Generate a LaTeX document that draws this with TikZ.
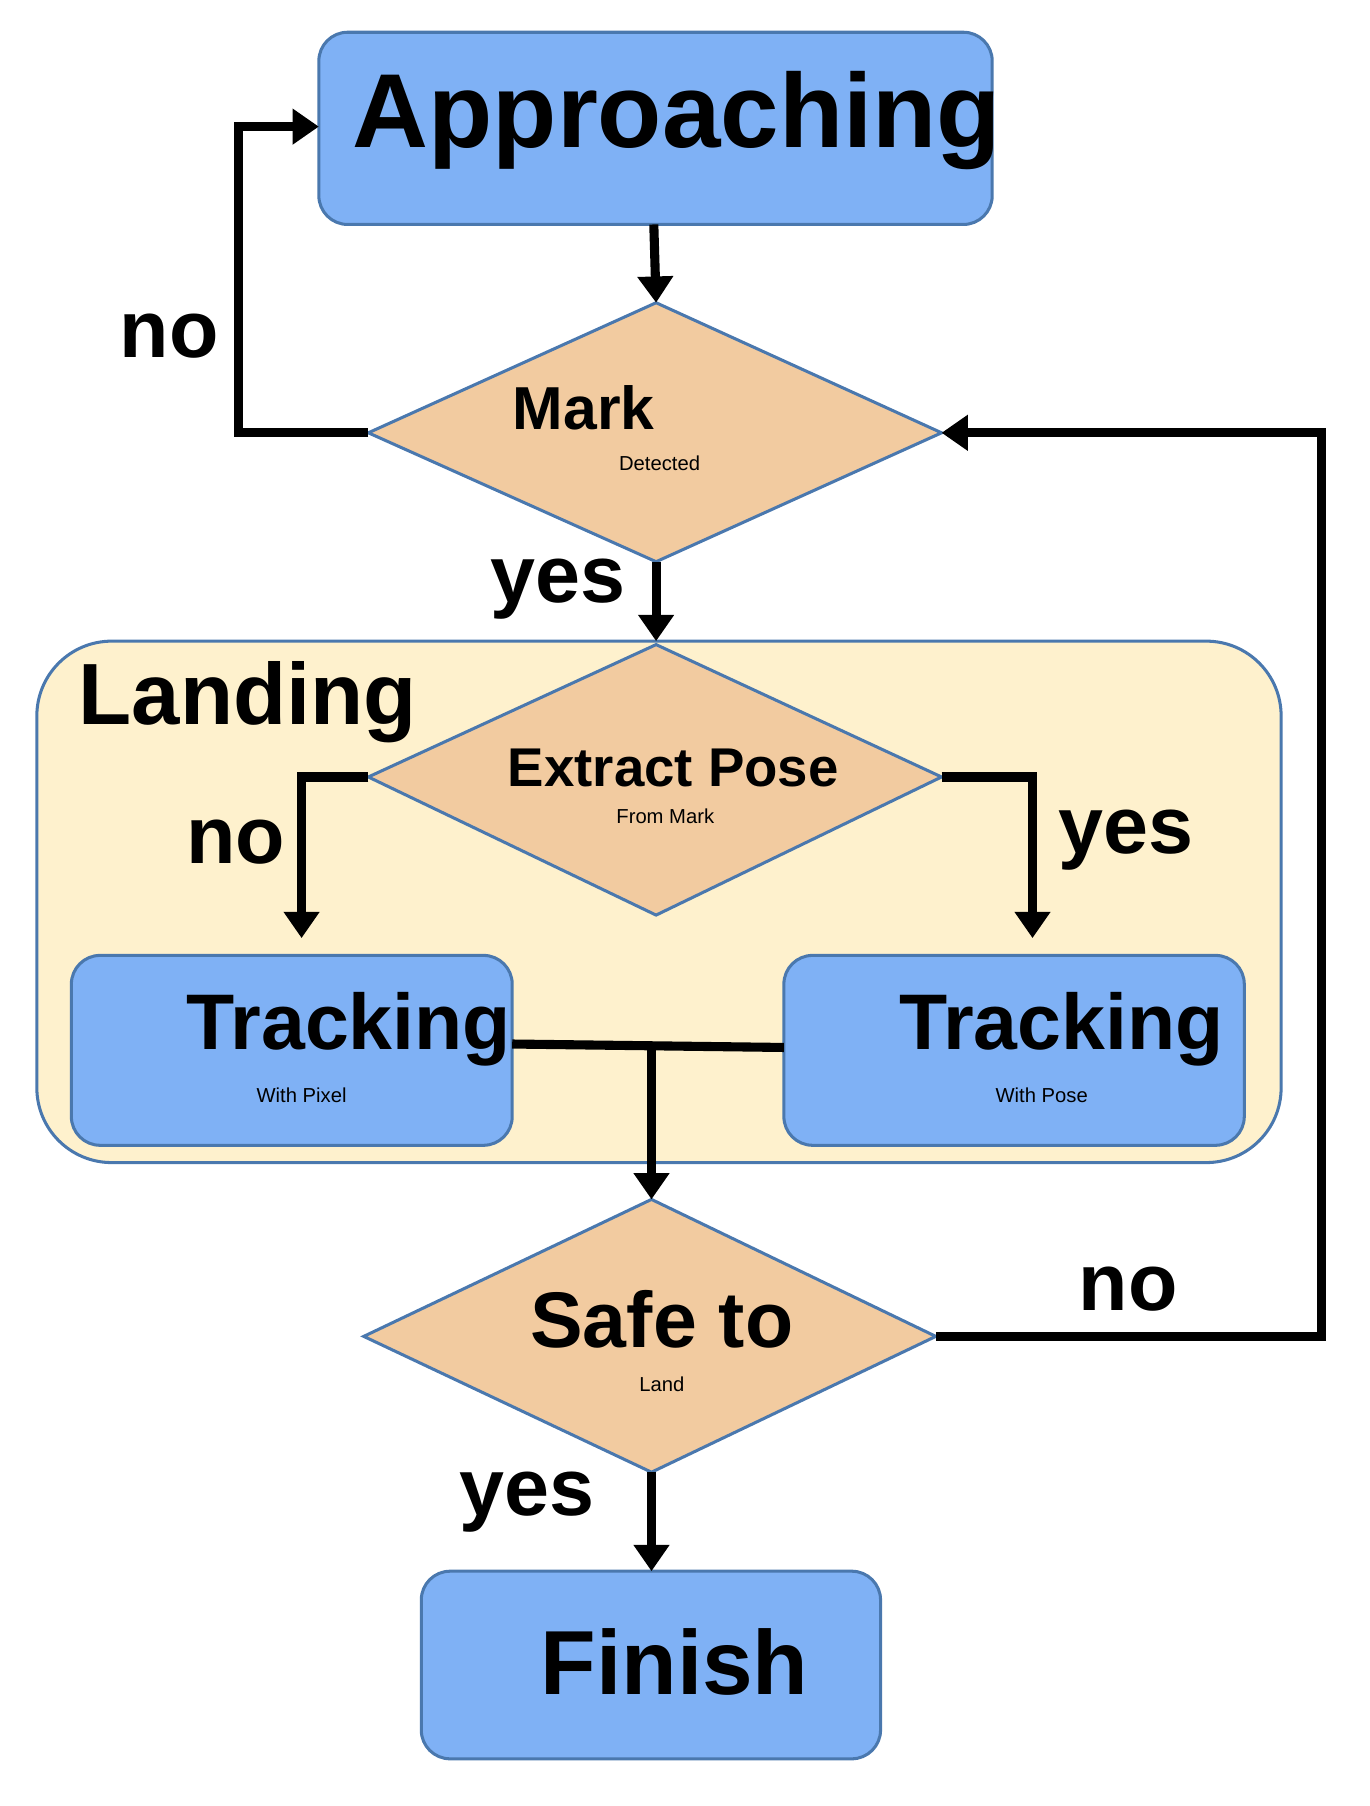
\documentclass[tikz,border=0pt]{standalone}
\usepackage{fontspec}
\setmainfont{Liberation Sans}
\usetikzlibrary{arrows.meta}
\definecolor{boxf}{HTML}{7FB1F5}
\definecolor{boxd}{HTML}{4A78AE}
\definecolor{diaf}{HTML}{F2CBA0}
\definecolor{lanf}{HTML}{FEF1CD}
\newcommand{\fs}[1]{\fontsize{#1}{#1}\selectfont\bfseries}
\begin{document}
\begin{tikzpicture}[x=0.02cm,y=-0.02cm,
  box/.style={draw=boxd,fill=boxf,line width=1.5pt,rounded corners=0.5cm},
  dia/.style={draw=boxd,fill=diaf,line width=1.5pt},
  conn/.style={line width=4.5pt},
  arr/.style={conn,-{Triangle[length=13pt,width=17pt]}},
  lbl/.style={inner sep=0pt,align=center}]
\useasboundingbox (0,0) rectangle (1190,1569);
% container
\draw[draw=boxd,fill=lanf,line width=1.5pt,rounded corners=1.3cm] (32,557) rectangle (1113,1010);
\node[lbl,anchor=west] (landing) at (68,610) {\fs{43pt}Landing};
% boxes
\draw[box] (277,28) rectangle (862,195);
\node[lbl] (app) at (588,105) {\fs{52pt}Approaching};
\coordinate (appB) at (568,195); \coordinate (appL) at (277,110);
\draw[box] (62,830) rectangle (445,995);
\node[lbl] (pix) at (262,910) {\fs{39pt}\hspace*{1.2em}Tracking\\[10pt]With Pixel};
\coordinate (pixR) at (445,907);
\draw[box] (681,830) rectangle (1081,995);
\node[lbl] (pose) at (905,910) {\fs{39pt}\hspace*{0.5em}Tracking\\[10pt]With Pose};
\coordinate (poseL) at (681,910);
\draw[box] (366,1365) rectangle (765,1528);
\node[lbl] (fin) at (586,1444) {\fs{45pt}Finish};
\coordinate (finT) at (566,1365);
% diamonds
\draw[dia] (320,376) -- (570,263) -- (818,376) -- (570,488) -- cycle;
\coordinate (d1L) at (320,376); \coordinate (d1R) at (818,376);
\coordinate (d1T) at (570,263); \coordinate (d1B) at (570,488);
\node[lbl] (d1) at (573,372) {\fs{30pt}\hspace*{-2.5em}Mark\\[8pt]Detected};
\draw[dia] (320,675) -- (570,560) -- (818,675) -- (570,795) -- cycle;
\coordinate (d2L) at (320,675); \coordinate (d2R) at (818,675);
\coordinate (d2T) at (570,557);
\node[lbl] (d2) at (585,683) {\fs{27pt}Extract Pose\\[6pt]\hspace*{-0.8em}From Mark};
\draw[dia] (316,1161) -- (566,1042) -- (813,1161) -- (566,1279) -- cycle;
\coordinate (d3L) at (316,1161); \coordinate (d3R) at (813,1161);
\coordinate (d3T) at (566,1042); \coordinate (d3B) at (566,1279);
\node[lbl] (d3) at (575,1165) {\fs{39pt}Safe to\\[10pt]Land};
% connectors
\draw[arr] (appB) -- (d1T);
\draw[arr] (d1L) -- (207,376) -- (207,110) -- (appL);
\draw[arr] (d1B) -- (d2T);
\draw[arr] (d2L) -- (262,675) -- (262,815);
\draw[arr] (d2R) -- (897,675) -- (897,815);
\draw[conn] (pixR) -- (poseL);
\draw[arr] (566,909) -- (d3T);
\draw[arr] (d3R) -- (1148,1161) -- (1148,376) -- (d1R);
\draw[arr] (d3B) -- (finT);
% labels
\node[lbl] (n1) at (147,292) {\fs{40pt}no};
\node[lbl] (y1) at (485,512) {\fs{40pt}yes};
\node[lbl] (n2) at (205,732) {\fs{40pt}no};
\node[lbl] (y2) at (978,730) {\fs{40pt}yes};
\node[lbl] (n3) at (980,1120) {\fs{40pt}no};
\node[lbl] (y3) at (458,1305) {\fs{40pt}yes};
\end{tikzpicture}
\end{document}
